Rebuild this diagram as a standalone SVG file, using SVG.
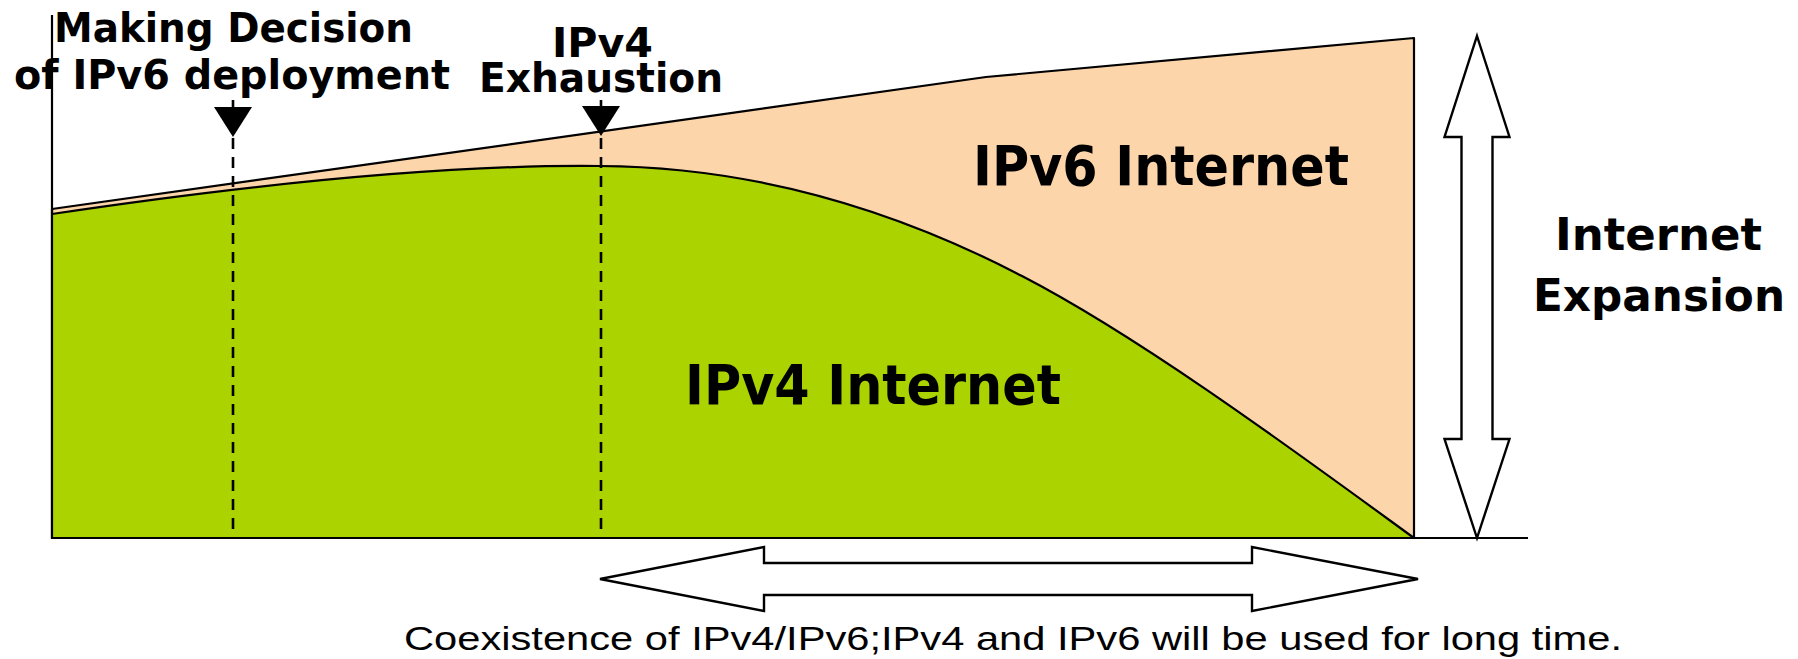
<svg xmlns="http://www.w3.org/2000/svg" width="1798" height="659" viewBox="0 0 1798 659">
<style>
.ln{fill:none;stroke:#000;stroke-width:2.2}
.dash{fill:none;stroke:#000;stroke-width:2.6;stroke-dasharray:11 8}
.arr{fill:#fff;stroke:#000;stroke-width:2.4;stroke-linejoin:miter}
.tri{fill:#000;stroke:none}
.b{font-family:"DejaVu Sans","Liberation Sans",sans-serif;font-weight:bold;fill:#000}
.cap{font-family:"Liberation Sans","Noto Sans CJK JP",sans-serif;fill:#000}
</style>
<rect width="1798" height="659" fill="#fff"/>
<g id="ipv6-area">
<polygon points="52,209 986,77 1414,38 1414,538 52,538" fill="#FDD5AA" stroke="#000" stroke-width="2.2" stroke-linejoin="round"/>
<text class="b" x="973" y="185" font-size="55" textLength="376" lengthAdjust="spacingAndGlyphs">IPv6 Internet</text>
</g>
<g id="ipv4-area">
<path d="M52,214 C200,192 420,164 600,166 C765,167 905,215 1022,276 C1142,338 1300,455 1414,538 L52,538 Z" fill="#AAD300"/>
<path class="ln" d="M52,214 C200,192 420,164 600,166 C765,167 905,215 1022,276 C1142,338 1300,455 1414,538"/>
<text class="b" x="685" y="404" font-size="55" textLength="376" lengthAdjust="spacingAndGlyphs">IPv4 Internet</text>
</g>
<g id="axes">
<line class="ln" x1="52" y1="15" x2="52" y2="539"/>
<line class="ln" x1="51" y1="538" x2="1528" y2="538"/>
</g>
<g id="connectors">
<line class="dash" x1="233" y1="100" x2="233" y2="537"/>
<polygon class="tri" points="214,107 252,107 233,137"/>
<line class="dash" x1="601" y1="100" x2="601" y2="537"/>
<polygon class="tri" points="582,106 620,106 601,136"/>
</g>
<g id="decision-label">
<text class="b" font-size="40"><tspan x="54" y="42" textLength="359" lengthAdjust="spacingAndGlyphs">Making Decision</tspan><tspan x="14" y="89" textLength="436" lengthAdjust="spacingAndGlyphs">of IPv6 deployment</tspan></text>
</g>
<g id="exhaustion-label">
<text class="b" font-size="40"><tspan x="552" y="57" textLength="101" lengthAdjust="spacingAndGlyphs">IPv4</tspan><tspan x="479" y="92" textLength="244" lengthAdjust="spacingAndGlyphs">Exhaustion</tspan></text>
</g>
<g id="expansion-arrow">
<polygon class="arr" points="1477,36 1509.5,137 1492.5,137 1492.5,439 1509.5,439 1477,538 1444.5,439 1461.5,439 1461.5,137 1444.5,137"/>
</g>
<g id="expansion-label">
<text class="b" font-size="45"><tspan x="1555" y="250" textLength="207" lengthAdjust="spacingAndGlyphs">Internet</tspan><tspan x="1533" y="311" textLength="252" lengthAdjust="spacingAndGlyphs">Expansion</tspan></text>
</g>
<g id="coexistence-arrow">
<polygon class="arr" points="600,579 764,547 764,563 1252,563 1252,547 1418,579 1252,611 1252,595 764,595 764,611"/>
</g>
<g id="coexistence-label">
<text class="cap" x="404" y="650" font-size="34" textLength="1218" lengthAdjust="spacingAndGlyphs">Coexistence of IPv4/IPv6;IPv4 and IPv6 will be used for long time.</text>
</g>
</svg>
